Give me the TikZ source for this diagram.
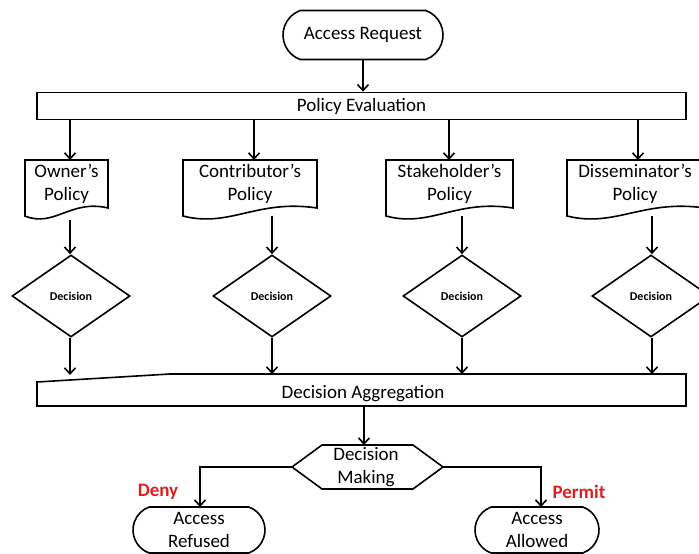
\documentclass[tikz,border=0pt]{standalone}
\usepackage{fontspec}
\setmainfont{Carlito}
\usetikzlibrary{shapes.geometric,shapes.misc,arrows.meta}
\definecolor{denyred}{RGB}{220,30,30}
\begin{document}
\begin{tikzpicture}[x=1pt,y=-1pt,line width=1.6pt,
  >={Straight Barb[length=6pt,width=11pt]},
  lbl/.style={font=\fontsize{19}{23}\selectfont,align=center,inner sep=0pt},
  term/.style={rounded rectangle,rounded rectangle arc length=140,draw,line width=1.6pt,font=\fontsize{19}{23}\selectfont,align=center,inner sep=0pt},
  bar/.style={rectangle,draw,line width=1.6pt,font=\fontsize{19}{23}\selectfont,inner sep=0pt},
  dec/.style={diamond,draw,line width=1.6pt,inner sep=0pt,minimum width=118pt,minimum height=82pt,font=\bfseries\fontsize{12}{14}\selectfont},
  shp/.style={draw,line width=1.6pt,line join=miter},
  verdict/.style={text=denyred,font=\bfseries\fontsize{19}{23}\selectfont,inner sep=0pt}]
\useasboundingbox (0,0) rectangle (699,554);
\clip (0,0) rectangle (699,554);
% top
\node[term,minimum width=160pt,minimum height=49pt] (ar) at (363,35) {Access Request};
\node[bar,minimum width=649pt,minimum height=27pt] (pe) at (361.5,106) {Policy Evaluation};
\draw[->] (ar.south) -- (ar.south |- pe.north);
% documents
\newcommand{\docshape}[2]{%
  \path[shp] (#1,160) -- (#2,160) -- (#2,208)
    .. controls ({#2-0.45*(#2-#1)},199) and ({#1+0.35*(#2-#1)},228) .. (#1,216) -- cycle;}
\docshape{25}{108}
\docshape{183}{317}
\docshape{386}{513}
\docshape{567}{705}
\node[lbl] (d1) at (66.5,184) {Owner\symbol{39}s\\Policy};
\node[lbl] (d2) at (250,184) {Contributor’s\\Policy};
\node[lbl] (d3) at (449.5,184) {Stakeholder’s\\Policy};
\node[lbl] (d4) at (635,184) {Disseminator\symbol{39}s\\Policy};
\coordinate (d1in) at (70,160);
\coordinate (d2in) at (254,160);
\coordinate (d3in) at (449,160);
\coordinate (d4in) at (638,160);
\coordinate (d1out) at (70,220);
\coordinate (d2out) at (272,216);
\coordinate (d3out) at (462,216);
\coordinate (d4out) at (652,216);
\foreach \i in {1,2,3,4} {\draw[->] (pe.south -| d\i in) -- (d\i in);}
% decisions
\node[dec] (c1) at (71,296) {Decision};
\node[dec] (c2) at (272,296) {Decision};
\node[dec] (c3) at (462,296) {Decision};
\node[dec] (c4) at (651,296) {Decision};
\draw[->] (d1out) -- (d1out |- c1.north);
\draw[->] (d2out) -- (d2out |- c2.north);
\draw[->] (d3out) -- (d3out |- c3.north);
\draw[->] (d4out) -- (d4out |- c4.north);
% aggregation
\path[shp] (37,382) -- (170,374) -- (686,374) -- (686,406) -- (37,406) -- cycle;
\node[lbl] (da) at (363,394) {Decision Aggregation};
\coordinate (a1) at (70,375);
\coordinate (a2) at (272,374);
\coordinate (a3) at (462,374);
\coordinate (a4) at (652,374);
\coordinate (dabot) at (364,406);
\draw[->] (c1.south -| a1) -- (a1);
\draw[->] (c2.south -| a2) -- (a2);
\draw[->] (c3.south -| a3) -- (a3);
\draw[->] (c4.south -| a4) -- (a4);
% decision making
\path[shp] (292,467) -- (322,445) -- (413,445) -- (443,467) -- (413,489) -- (322,489) -- cycle;
\node[lbl] (dm) at (366,467) {Decision\\Making};
\coordinate (dmtop) at (364,445);
\coordinate (dml) at (292,467);
\coordinate (dmr) at (443,467);
\draw[->] (dabot) -- (dmtop);
% outcomes
\node[term,minimum width=132pt,minimum height=46pt] (rf) at (199,530) {Access\\Refused};
\node[term,minimum width=124pt,minimum height=46pt] (al) at (537,530) {Access\\Allowed};
\coordinate (rfin) at (200,507);
\coordinate (alin) at (541,507);
\draw[->] (dml) -- (dml -| rfin) -- (rfin);
\draw[->] (dmr) -- (dmr -| alin) -- (alin);
\node[verdict] (deny) at (158,492) {Deny};
\node[verdict] (permit) at (579,492) {Permit};
\end{tikzpicture}
\end{document}
